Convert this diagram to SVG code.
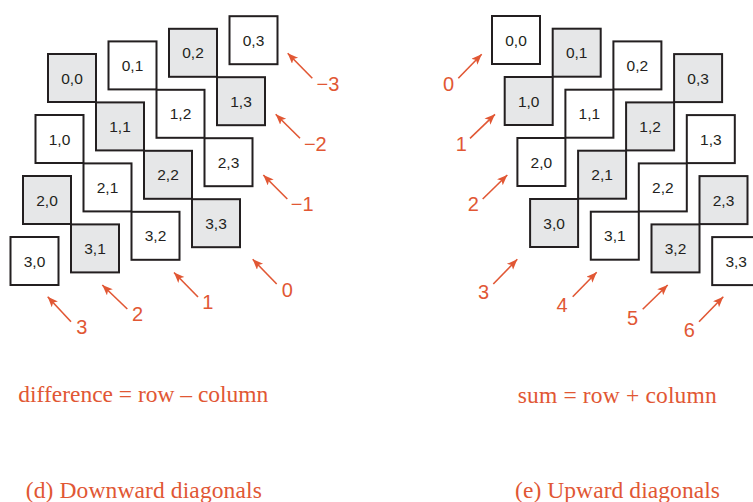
<svg xmlns="http://www.w3.org/2000/svg" width="753" height="502" viewBox="0 0 753 502">
<style>
  .b{fill:#ffffff;stroke:#231f20;stroke-width:2}
  .g{fill:#e6e7e8;stroke:#231f20;stroke-width:2}
  .t{font-family:"Liberation Sans",Arial,sans-serif;font-size:15.5px;fill:#231f20;text-anchor:middle}
  .n{font-family:"Liberation Sans",Arial,sans-serif;font-size:20px;fill:#e15734;text-anchor:middle}
  .c{font-family:"Liberation Serif","Times New Roman",serif;font-size:23.5px;fill:#e15734;text-anchor:middle}
  .a{stroke:#e15734;stroke-width:1.6;fill:none;marker-end:url(#ah)}
</style>
<defs>
  <marker id="ah" markerUnits="userSpaceOnUse" markerWidth="12" markerHeight="10" refX="10.5" refY="4.25" orient="auto">
    <path d="M0,0 L10.5,4.25 L0,8.5 L2.5,4.25 Z" fill="#e15734"/>
  </marker>
</defs>
<rect width="753" height="502" fill="#ffffff"/>

<!-- Left panel: downward diagonals -->
<g id="L00"><rect class="g" x="48" y="54" width="48" height="48"/><text class="t" x="72" y="83.5">0,0</text></g>
<g id="L01"><rect class="b" x="108.5" y="41.4" width="48" height="48"/><text class="t" x="132.5" y="70.9">0,1</text></g>
<g id="L02"><rect class="g" x="169" y="28.8" width="48" height="48"/><text class="t" x="193" y="58.3">0,2</text></g>
<g id="L03"><rect class="b" x="229.5" y="16.2" width="48" height="48"/><text class="t" x="253.5" y="45.7">0,3</text></g>
<g id="L10"><rect class="b" x="35.5" y="115" width="48" height="48"/><text class="t" x="59.5" y="144.5">1,0</text></g>
<g id="L11"><rect class="g" x="96" y="102.4" width="48" height="48"/><text class="t" x="120" y="131.9">1,1</text></g>
<g id="L12"><rect class="b" x="156.5" y="89.8" width="48" height="48"/><text class="t" x="180.5" y="119.3">1,2</text></g>
<g id="L13"><rect class="g" x="217" y="77.2" width="48" height="48"/><text class="t" x="241" y="106.7">1,3</text></g>
<g id="L20"><rect class="g" x="23" y="176" width="48" height="48"/><text class="t" x="47" y="205.5">2,0</text></g>
<g id="L21"><rect class="b" x="83.5" y="163.4" width="48" height="48"/><text class="t" x="107.5" y="192.9">2,1</text></g>
<g id="L22"><rect class="g" x="144" y="150.8" width="48" height="48"/><text class="t" x="168" y="180.3">2,2</text></g>
<g id="L23"><rect class="b" x="204.5" y="138.2" width="48" height="48"/><text class="t" x="228.5" y="167.7">2,3</text></g>
<g id="L30"><rect class="b" x="10.5" y="237" width="48" height="48"/><text class="t" x="34.5" y="266.5">3,0</text></g>
<g id="L31"><rect class="g" x="71" y="224.4" width="48" height="48"/><text class="t" x="95" y="253.9">3,1</text></g>
<g id="L32"><rect class="b" x="131.5" y="211.8" width="48" height="48"/><text class="t" x="155.5" y="241.3">3,2</text></g>
<g id="L33"><rect class="g" x="192" y="199.2" width="48" height="48"/><text class="t" x="216" y="228.7">3,3</text></g>

<!-- Right panel: upward diagonals -->
<g id="R00"><rect class="b" x="492" y="16" width="48" height="48"/><text class="t" x="516" y="45.5">0,0</text></g>
<g id="R01"><rect class="g" x="552.7" y="28.7" width="48" height="48"/><text class="t" x="576.7" y="58.2">0,1</text></g>
<g id="R02"><rect class="b" x="613.4" y="41.4" width="48" height="48"/><text class="t" x="637.4" y="70.9">0,2</text></g>
<g id="R03"><rect class="g" x="674.1" y="54.1" width="48" height="48"/><text class="t" x="698.1" y="83.6">0,3</text></g>
<g id="R10"><rect class="g" x="504.7" y="77" width="48" height="48"/><text class="t" x="528.7" y="106.5">1,0</text></g>
<g id="R11"><rect class="b" x="565.4" y="89.7" width="48" height="48"/><text class="t" x="589.4" y="119.2">1,1</text></g>
<g id="R12"><rect class="g" x="626.1" y="102.4" width="48" height="48"/><text class="t" x="650.1" y="131.9">1,2</text></g>
<g id="R13"><rect class="b" x="686.8" y="115.1" width="48" height="48"/><text class="t" x="710.8" y="144.6">1,3</text></g>
<g id="R20"><rect class="b" x="517.4" y="138" width="48" height="48"/><text class="t" x="541.4" y="167.5">2,0</text></g>
<g id="R21"><rect class="g" x="578.1" y="150.7" width="48" height="48"/><text class="t" x="602.1" y="180.2">2,1</text></g>
<g id="R22"><rect class="b" x="638.8" y="163.4" width="48" height="48"/><text class="t" x="662.8" y="192.9">2,2</text></g>
<g id="R23"><rect class="g" x="699.5" y="176.1" width="48" height="48"/><text class="t" x="723.5" y="205.6">2,3</text></g>
<g id="R30"><rect class="g" x="530.1" y="199" width="48" height="48"/><text class="t" x="554.1" y="228.5">3,0</text></g>
<g id="R31"><rect class="b" x="590.8" y="211.7" width="48" height="48"/><text class="t" x="614.8" y="241.2">3,1</text></g>
<g id="R32"><rect class="g" x="651.5" y="224.4" width="48" height="48"/><text class="t" x="675.5" y="253.9">3,2</text></g>
<g id="R33"><rect class="b" x="712.2" y="237.1" width="48" height="48"/><text class="t" x="736.2" y="266.6">3,3</text></g>

<g id="connectors">
  <line class="a" x1="312.3" y1="78.3" x2="287.7" y2="53.3"/>
  <line class="a" x1="300" y1="138.3" x2="275.7" y2="114.3"/>
  <line class="a" x1="287.3" y1="199" x2="263.3" y2="175"/>
  <line class="a" x1="276.7" y1="284" x2="252.7" y2="259.3"/>
  <line class="a" x1="198" y1="297" x2="174" y2="272.5"/>
  <line class="a" x1="127.3" y1="309" x2="102.3" y2="285"/>
  <line class="a" x1="71" y1="321.7" x2="47.7" y2="296.7"/>
  <line class="a" x1="458.3" y1="78.3" x2="481.7" y2="54.3"/>
  <line class="a" x1="470" y1="138.3" x2="495" y2="114.3"/>
  <line class="a" x1="482.7" y1="199" x2="507.3" y2="175"/>
  <line class="a" x1="493.3" y1="284" x2="517.3" y2="259.3"/>
  <line class="a" x1="572.7" y1="296.7" x2="596.7" y2="272.3"/>
  <line class="a" x1="642.7" y1="309.3" x2="667.7" y2="285"/>
  <line class="a" x1="699" y1="321.7" x2="723.3" y2="296.7"/>
</g>

<g id="labels">
  <text class="n" x="328" y="91">−3</text>
  <text class="n" x="315.3" y="151.3">−2</text>
  <text class="n" x="302.2" y="211.3">−1</text>
  <text class="n" x="287.2" y="297">0</text>
  <text class="n" x="207.9" y="308.6">1</text>
  <text class="n" x="137.5" y="321">2</text>
  <text class="n" x="81.7" y="334.3">3</text>
  <text class="n" x="448.5" y="91">0</text>
  <text class="n" x="461.2" y="151">1</text>
  <text class="n" x="473.2" y="211.3">2</text>
  <text class="n" x="483.5" y="298.6">3</text>
  <text class="n" x="562" y="312">4</text>
  <text class="n" x="632.5" y="325.3">5</text>
  <text class="n" x="689.2" y="337">6</text>
</g>

<g id="captions">
  <text class="c" x="143.3" y="402.3" textLength="250">difference = row – column</text>
  <text class="c" x="617.2" y="402.7" textLength="199">sum = row + column</text>
  <text class="c" x="143.8" y="498" textLength="236">(d) Downward diagonals</text>
  <text class="c" x="617.5" y="498" textLength="205">(e) Upward diagonals</text>
</g>
</svg>
